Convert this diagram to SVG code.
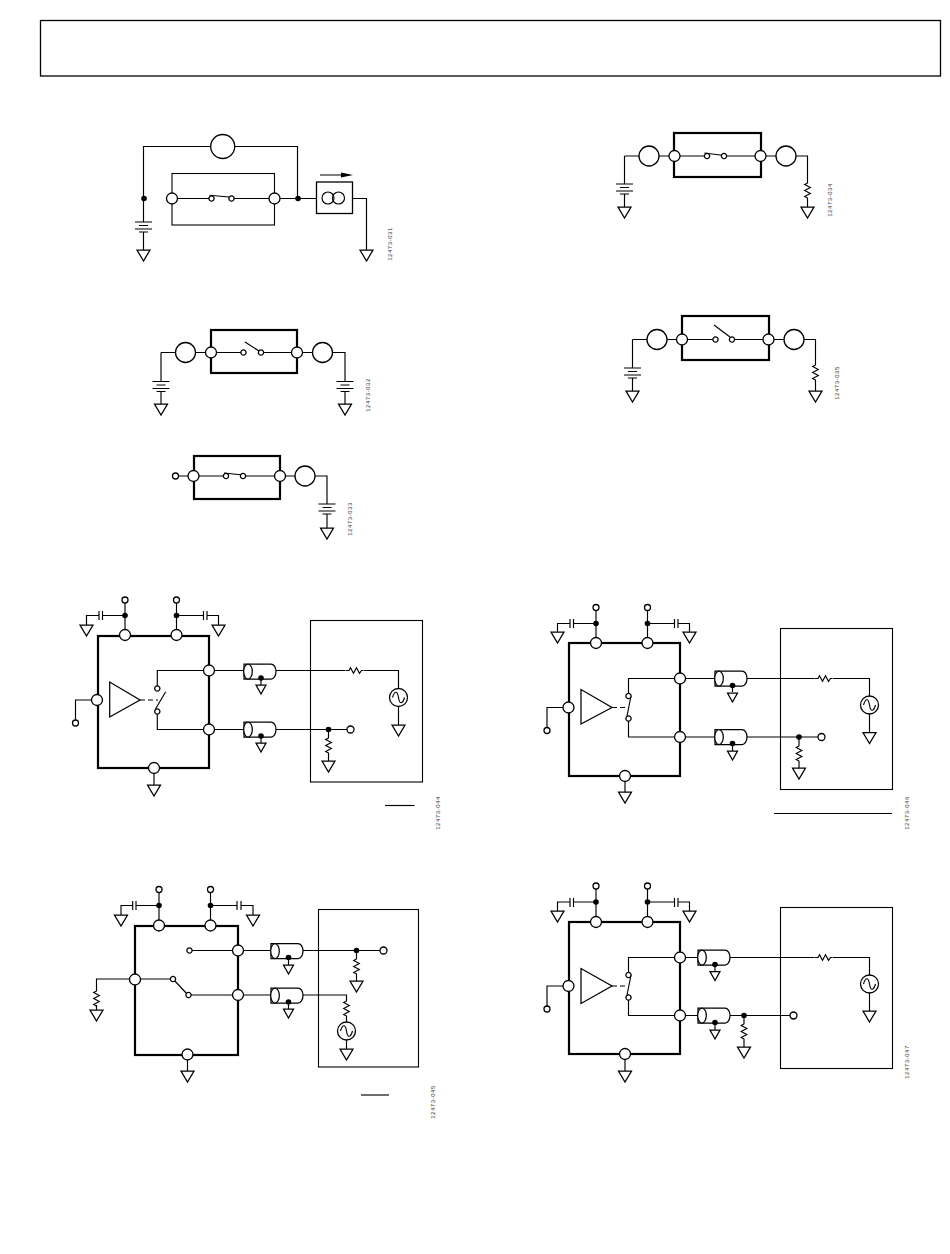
<svg xmlns="http://www.w3.org/2000/svg" xmlns:xlink="http://www.w3.org/1999/xlink" width="950" height="1254" viewBox="0 0 950 1254">
<style>
.w{fill:none;stroke:#000;stroke-width:1.15}
.t{fill:none;stroke:#000;stroke-width:1.1}
.c{fill:#fff;stroke:#000;stroke-width:1.3}
.b{fill:none;stroke:#000;stroke-width:2.2}
.o{fill:#fff;stroke:#000;stroke-width:1.25}
.d{fill:#000;stroke:none}
.l{font-family:"Liberation Sans",Arial,sans-serif;font-size:6px;letter-spacing:.55px;fill:#333;text-anchor:middle}
</style>
<defs>
<path id="gnd" class="o" d="M-6.500 0H6.500L0 11Z"/>
<path id="gs" class="o" d="M-5 0H5L0 9Z"/>
<path id="bat" class="w" d="M-8.500 0H8.500M-4.500 3.500H4.500M-8.500 7H8.500M-4.500 10H4.500"/>
<path id="rv" class="w" d="M0 0V3L-2.800 4.500 2.800 7.500-2.800 10.500 2.800 13.500-2.800 16.500 0 18V20"/>
<path id="rh" class="w" d="M-9 0H-5.500L-4 -2.800-1 2.800 2 -2.800 5 2.800 7 0H9"/>
<g id="coax"><path class="o" d="M0 -7.500H27A5 7.500 0 0 1 27 7.500H0Z"/><ellipse class="o" cx="4" cy="0" rx="4.300" ry="7.500"/></g>
<g id="src"><circle class="c" r="9"/><path class="w" d="M-6 0C-4 -7 -1 -7 0 0S4 7 6 0"/></g>
<circle id="n" class="c" r="5.500"/>
<circle id="ns" class="c" r="3"/>
<circle id="cn" class="c" r="2.600"/>
<circle id="j" class="d" r="2.800"/>
<circle id="big" class="c" r="10"/>
</defs>
<rect id="header" class="c" x="40.500" y="20.500" width="900" height="55.500"/>
<g id="connectors">
<path class="w" d="M172 198.500H209M234 198.500H317M143.500 198.500V146.500H297.500V198.500M143.500 198.500V222M143.500 232V250M352.500 198.500H366.500V250M320 175H342M209.500 195.200L232 197.300"/>
<path class="w" d="M161 352.500H175M161 352.500V381.500M161 391.500V404M195 352.500H241M263.500 352.500H312M333 352.500H345V381.500M345 391.500V404M245 342L259 351"/>
<path class="w" d="M173 476H224M245 476H295M315 476H327V504M327 514V528M224 473L243 475"/>
<path class="w" d="M624.500 156H639M659 156H705M726 156H776M624.500 156V184M624.500 194V207M796 156H807.500V180M807.500 200V207M704.500 153L724 155.500"/>
<path class="w" d="M632.500 339.500H647M667 339.500H713M734 339.500H784M632.500 339.500V368M632.500 378V391M804 339.500H815.500V362M815.500 382V391M730 337L714 325"/>
<g id="w6"><path class="w" d="M125 600V635M176.500 600V635M125 615.500H102.500M99 615.500H86.500V625M99 611V620M102.500 611V620M176.500 615.500H203.500M207 615.500H218.500V625M203.500 611V620M207 611V620M97 700H75.500V723M157.300 686V670.500H209M157.300 714V729.500H209M155.500 709L165.700 691.700M209 670.500H244M276 670.500H345M364 670.500H398.500V725M209 729.500H244M276 729.500H351M154 768V785M328.500 729.500V735M328.500 755V761"/><path class="w" stroke-dasharray="5 3" d="M140 700H158"/><path class="w" d="M261 678V685M261 736V743"/><path class="w" d="M385 805.500H414.500"/></g>
<g id="w7"><path class="w" d="M596 607.500V643M647.500 607.500V643M596 623.500H573.500M570 623.500H557.500V632M570 619V628M573.500 619V628M647.500 623.500H674.500M678 623.500H689.500V632M674.500 619V628M678 619V628M568.500 707.500H547V730.500M628.500 693V678.500H680M628.500 721V737H680M627 716L631 696M680 678.500H715M747 678.500H814M833 678.500H869.500V732.500M680 737H715M747 737H821M625 776V792M799 737V743M799 763V768M732.500 685V692M732.500 743V751"/><path class="w" stroke-dasharray="5 3" d="M612 707.500H628"/><path class="w" d="M774 813.500H892"/></g>
<g id="w8"><path class="w" d="M159 889.500V925M210.500 889.500V925M159 905.500H136M132.700 905.500H121V915M132.700 901V910M136 901V910M210.500 905.500H237M241 905.500H253V915M237 901V910M241 901V910M135 979H96.500V988M96.500 1005V1010M135 979H173M173 979L188 995M188.500 995H271M189.500 950.500H271M303 950.500H383M303 995H346.500V998M346.500 1018V1022M346.500 1040V1049M356.500 950.500V956M356.500 976V981M288.500 957V965M288.500 1002V1009M187.500 1054V1071"/><path class="w" d="M361 1095H389"/></g>
<g id="w9"><path class="w" d="M596 886V922M647.500 886V922M596 902H573.500M570 902H557.500V911M570 898V907M573.500 898V907M647.500 902H674.500M678 902H689.500V911M674.500 898V907M678 898V907M568.500 986H547V1009M628.500 972V957.500H680M628.500 1000V1015.500H680M627 995L631 975M680 957.500H698M730 957.500H814M833 957.500H869.500V1011M680 1015.500H698M730 1015.500H793M625 1054V1071M744 1015.500V1021M744 1041V1047M715 964V971M715 1022V1030"/><path class="w" stroke-dasharray="5 3" d="M612 986H628"/></g>
</g>
<g id="fig1">
<rect id="f1-chip" class="t" x="172" y="173.500" width="102.500" height="51.500"/>
<path class="d" d="M341 172.500L353 175 341 177.500Z"/>
<circle id="f1-meter" class="c" cx="222.700" cy="146.500" r="12"/>
<g id="f1-load"><rect class="c" x="316.500" y="182" width="36" height="31.500"/><circle class="w" cx="328" cy="198" r="6"/><circle class="w" cx="338.500" cy="198" r="6"/></g>
<use href="#n" x="172" y="198.500"/><use href="#n" x="274.500" y="198.500"/>
<use href="#j" x="144" y="198.500"/><use href="#j" x="298" y="198.500"/>
<use href="#cn" x="211.500" y="198.500"/><use href="#cn" x="231.500" y="198.500"/>
<use href="#bat" x="143.500" y="222"/>
<use href="#gnd" x="143.500" y="250"/><use href="#gnd" x="366.500" y="250"/>
<text class="l" transform="translate(392 244) rotate(-90)">12473-031</text>
</g>
<g id="fig2">
<rect class="b" x="211" y="330" width="86" height="43"/>
<use href="#big" x="185.500" y="352.500"/><use href="#big" x="322.500" y="352.500"/>
<use href="#n" x="211" y="352.500"/><use href="#n" x="297" y="352.500"/>
<use href="#cn" x="243.500" y="352.500"/><use href="#cn" x="261" y="352.500"/>
<use href="#bat" x="161" y="381.500"/><use href="#bat" x="345" y="381.500"/>
<use href="#gnd" x="161" y="404"/><use href="#gnd" x="345" y="404"/>
<text class="l" transform="translate(370 395) rotate(-90)">12473-032</text>
</g>
<g id="fig3">
<rect class="b" x="194" y="456" width="86" height="43"/>
<use href="#ns" x="175.500" y="476"/>
<use href="#big" x="305" y="476"/>
<use href="#n" x="193.500" y="476"/><use href="#n" x="280" y="476"/>
<use href="#cn" x="226" y="476"/><use href="#cn" x="243" y="476"/>
<use href="#bat" x="327" y="504"/><use href="#gnd" x="327" y="528"/>
<text class="l" transform="translate(352 519) rotate(-90)">12473-033</text>
</g>
<g id="fig4">
<rect class="b" x="674" y="133" width="87" height="44"/>
<use href="#big" x="649" y="156"/><use href="#big" x="786" y="156"/>
<use href="#n" x="674.500" y="156"/><use href="#n" x="760.500" y="156"/>
<use href="#cn" x="707" y="156"/><use href="#cn" x="724" y="156"/>
<use href="#bat" x="624.500" y="184"/><use href="#gnd" x="624.500" y="207"/>
<use href="#rv" x="807.500" y="180"/><use href="#gnd" x="807.500" y="207"/>
<text class="l" transform="translate(832 200) rotate(-90)">12473-034</text>
</g>
<g id="fig5">
<rect class="b" x="682" y="316" width="87" height="44"/>
<use href="#big" x="657" y="339.500"/><use href="#big" x="794" y="339.500"/>
<use href="#n" x="682" y="339.500"/><use href="#n" x="768.500" y="339.500"/>
<use href="#cn" x="715.500" y="339.500"/><use href="#cn" x="732" y="339.500"/>
<use href="#bat" x="632.500" y="368"/><use href="#gnd" x="632.500" y="391"/>
<use href="#rv" x="815.500" y="362"/><use href="#gnd" x="815.500" y="391"/>
<text class="l" transform="translate(839 383) rotate(-90)">12473-035</text>
</g>
<g id="fig6">
<rect class="b" x="98" y="636" width="111" height="132"/>
<rect class="t" x="310.500" y="620.500" width="112" height="161.500"/>
<path class="o" d="M109.700 682V717L140 700Z"/>
<use href="#n" x="125" y="635"/><use href="#n" x="176.500" y="635"/><use href="#n" x="97" y="700"/><use href="#n" x="209" y="670.500"/><use href="#n" x="209" y="729.500"/><use href="#n" x="154" y="768"/>
<use href="#ns" x="125" y="600"/><use href="#ns" x="176.500" y="600"/><use href="#ns" x="75.500" y="723"/>
<use href="#j" x="125" y="615.500"/><use href="#j" x="176.500" y="615.500"/><use href="#j" x="328.500" y="729.500"/>
<use href="#cn" x="157.300" y="688.500"/><use href="#cn" x="157.300" y="711.500"/>
<use href="#coax" x="244" y="671.500"/><use href="#coax" x="244" y="729.500"/>
<use href="#j" x="261" y="678"/><use href="#j" x="261" y="736"/>
<use href="#gs" x="261" y="685"/><use href="#gs" x="261" y="743"/>
<use href="#gnd" x="86.500" y="625"/><use href="#gnd" x="218.500" y="625"/><use href="#gnd" x="154" y="785"/><use href="#gnd" x="398.500" y="725"/><use href="#gnd" x="328.500" y="761"/>
<use href="#rh" x="354.500" y="670.500"/><use href="#rv" x="328.500" y="735"/>
<use href="#src" x="398.500" y="697.500"/>
<circle class="c" cx="350.500" cy="729.500" r="3.500"/>
<text class="l" transform="translate(440 813) rotate(-90)">12473-044</text>
</g>
<g id="fig7">
<rect class="b" x="569" y="643" width="111" height="133"/>
<rect class="t" x="780.500" y="628.500" width="112" height="161"/>
<path class="o" d="M581 689.500V724L612 707.500Z"/>
<use href="#n" x="596" y="643"/><use href="#n" x="647.500" y="643"/><use href="#n" x="568.500" y="707.500"/><use href="#n" x="680" y="678.500"/><use href="#n" x="680" y="737"/><use href="#n" x="625" y="776"/>
<use href="#ns" x="596" y="607.500"/><use href="#ns" x="647.500" y="607.500"/><use href="#ns" x="547" y="730.500"/>
<use href="#j" x="596" y="623.500"/><use href="#j" x="647.500" y="623.500"/><use href="#j" x="799" y="737"/>
<use href="#cn" x="628.500" y="696"/><use href="#cn" x="628.500" y="718.500"/>
<use href="#coax" x="715" y="678.500"/><use href="#coax" x="715" y="737"/>
<use href="#j" x="732.500" y="685.500"/><use href="#j" x="732.500" y="743.500"/>
<use href="#gs" x="732.500" y="693"/><use href="#gs" x="732.500" y="751"/>
<use href="#gnd" x="557.500" y="632"/><use href="#gnd" x="689.500" y="632"/><use href="#gnd" x="625" y="792"/><use href="#gnd" x="869.500" y="732.500"/><use href="#gnd" x="799" y="768"/>
<use href="#rh" x="823.500" y="678.500"/><use href="#rv" x="799" y="743"/>
<use href="#src" x="869.500" y="705"/>
<circle class="c" cx="821.500" cy="737" r="3.500"/>
<text class="l" transform="translate(909 813) rotate(-90)">12473-046</text>
</g>
<g id="fig8">
<rect class="b" x="135" y="926" width="103" height="129"/>
<rect class="t" x="318.500" y="909.500" width="100" height="157.500"/>
<use href="#n" x="159" y="925.500"/><use href="#n" x="210.500" y="925.500"/><use href="#n" x="135" y="979.500"/><use href="#n" x="238" y="950.500"/><use href="#n" x="238" y="995"/><use href="#n" x="187.500" y="1054.500"/>
<use href="#ns" x="159" y="889.500"/><use href="#ns" x="210.500" y="889.500"/>
<use href="#j" x="159" y="905.500"/><use href="#j" x="210.500" y="905.500"/><use href="#j" x="356.500" y="950.500"/>
<use href="#cn" x="189.500" y="950.500"/><use href="#cn" x="173" y="979"/><use href="#cn" x="188.500" y="995"/>
<use href="#coax" x="271" y="951"/><use href="#coax" x="271" y="995.500"/>
<use href="#j" x="288.500" y="957.500"/><use href="#j" x="288.500" y="1002"/>
<use href="#gs" x="288.500" y="965"/><use href="#gs" x="288.500" y="1009"/>
<use href="#gnd" x="121" y="915"/><use href="#gnd" x="253" y="915"/><use href="#gnd" x="187.500" y="1071"/><use href="#gnd" x="96.500" y="1010"/><use href="#gnd" x="356.500" y="981"/><use href="#gnd" x="346.500" y="1049"/>
<use href="#rv" x="96.500" y="988"/><use href="#rv" x="356.500" y="956"/><use href="#rv" x="346.500" y="998"/>
<use href="#src" x="346.500" y="1031"/>
<circle class="c" cx="383.500" cy="950.500" r="3.500"/>
<text class="l" transform="translate(435 1102) rotate(-90)">12473-045</text>
</g>
<g id="fig9">
<rect class="b" x="569" y="922" width="111" height="132"/>
<rect class="t" x="780.500" y="907.500" width="112" height="161"/>
<path class="o" d="M581 968.500V1003.500L612 986Z"/>
<use href="#n" x="596" y="922"/><use href="#n" x="647.500" y="922"/><use href="#n" x="568.500" y="986"/><use href="#n" x="680" y="957.500"/><use href="#n" x="680" y="1015.500"/><use href="#n" x="625" y="1054"/>
<use href="#ns" x="596" y="886"/><use href="#ns" x="647.500" y="886"/><use href="#ns" x="547" y="1009"/>
<use href="#j" x="596" y="902"/><use href="#j" x="647.500" y="902"/><use href="#j" x="744" y="1015.500"/>
<use href="#cn" x="628.500" y="975"/><use href="#cn" x="628.500" y="997.500"/>
<use href="#coax" x="698" y="957.500"/><use href="#coax" x="698" y="1015.500"/>
<use href="#j" x="715" y="964.500"/><use href="#j" x="715" y="1022.500"/>
<use href="#gs" x="715" y="971.500"/><use href="#gs" x="715" y="1030"/>
<use href="#gnd" x="557.500" y="911"/><use href="#gnd" x="689.500" y="911"/><use href="#gnd" x="625" y="1071"/><use href="#gnd" x="869.500" y="1011"/><use href="#gnd" x="744" y="1047"/>
<use href="#rh" x="823.500" y="957.500"/><use href="#rv" x="744" y="1021"/>
<use href="#src" x="869.500" y="984"/>
<circle class="c" cx="793.500" cy="1015.500" r="3.500"/>
<text class="l" transform="translate(909 1062) rotate(-90)">12473-047</text>
</g>
</svg>
